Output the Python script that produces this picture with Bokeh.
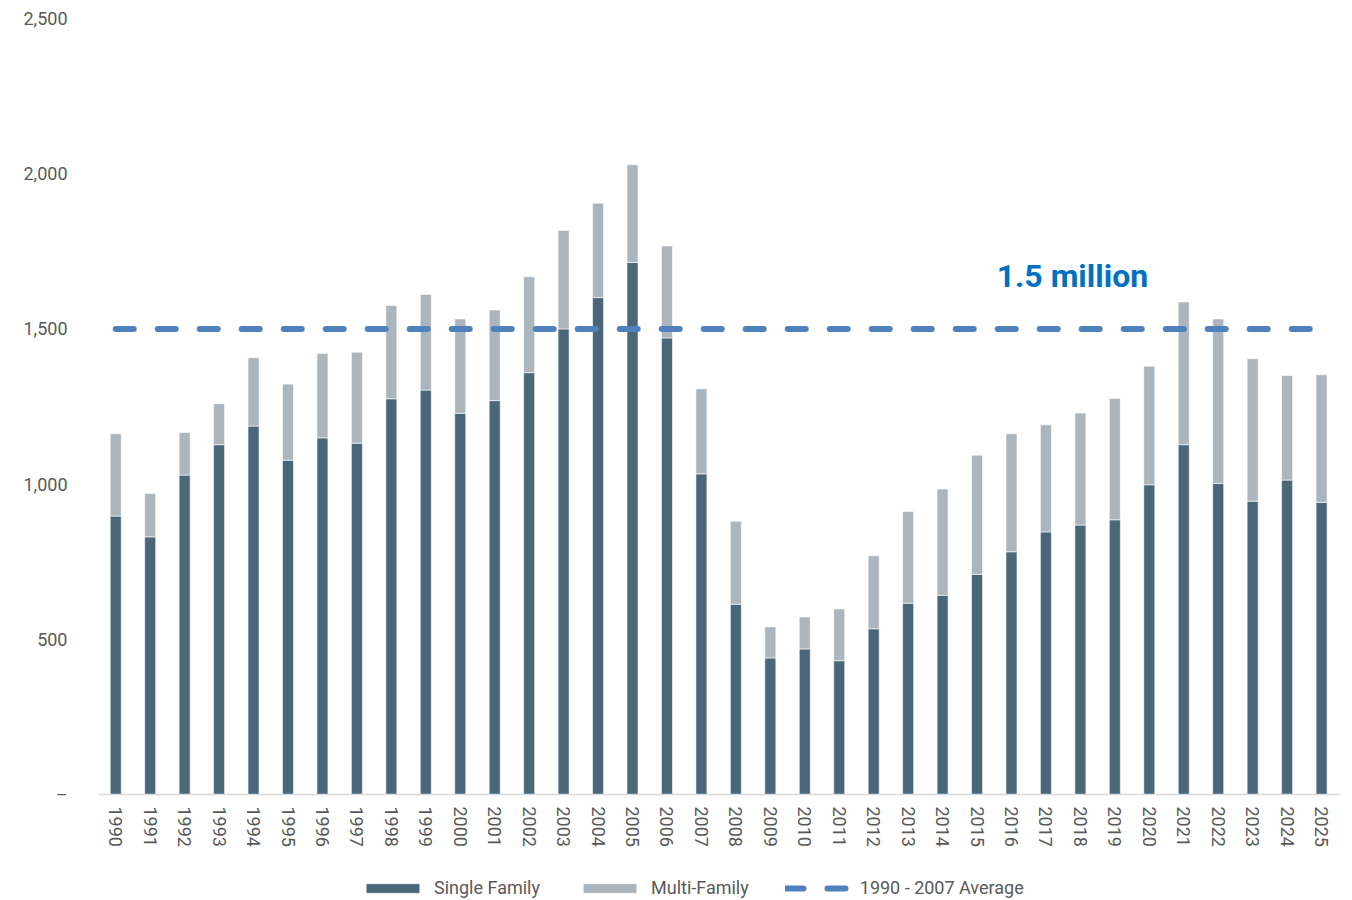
import numpy as np
from bokeh.plotting import figure
from bokeh.models import (ColumnDataSource, Range1d, FixedTicker, Legend, LegendItem, Label,
                          LinearAxis)
from bokeh.embed import file_html
from bokeh.resources import INLINE

# ---- data (thousands of housing starts) ----
years = list(range(1990, 2026))
single_family = [897, 830, 1029, 1127, 1187, 1077, 1149, 1132, 1275, 1303,
                 1228, 1269, 1359, 1500, 1601, 1714, 1471, 1033, 613, 440,
                 469, 431, 534, 616, 642, 709, 782, 846, 868, 885,
                 998, 1127, 1002, 945, 1013, 941]
multi_family = [265, 140, 137, 132, 220, 245, 272, 293, 300, 308,
                304, 292, 309, 317, 304, 315, 296, 274, 267, 100,
                103, 167, 235, 296, 342, 384, 380, 345, 361, 391,
                382, 460, 530, 459, 337, 411]
avg_years = [1990, 2025]
avg_values = [1500, 1500]
y_ticks = [0, 500, 1000, 1500, 2000, 2500]
y_tick_labels = ["\u2013", "500", "1,000", "1,500", "2,000", "2,500"]
annotation_text = "1.5 million"
annotation_pos = (2017.77, 1671)

FONT = "Roboto"
SINGLE_C = "#4A6679"
MULTI_C = "#ABB5BD"
AVG_C = "#4F81BD"
TEXT_C = "#595959"

src = ColumnDataSource(dict(year=years, single=single_family, multi=multi_family))

# y range extends below zero so that the legend and year labels sit inside the frame
p = figure(width=1352, height=900, output_backend="svg", toolbar_location=None,
           x_range=Range1d(1989.5, 2025.55), y_range=Range1d(-341.5, 2500),
           x_axis_location=None,
           min_border_left=98, min_border_right=12, min_border_top=18, min_border_bottom=0)
p.outline_line_color = None
p.xgrid.grid_line_color = None
p.ygrid.grid_line_color = None
p.background_fill_color = "white"
p.border_fill_color = "white"

rs = p.vbar_stack(["single", "multi"], x="year", width=0.32, source=src,
                  color=[SINGLE_C, MULTI_C], line_color="white", line_width=0.6)

avg = p.line(avg_years, avg_values, line_color=AVG_C, line_width=6,
             line_dash="18 24", line_cap="round")

# x axis pinned at y = 0
xaxis = LinearAxis(fixed_location=0, ticker=FixedTicker(ticks=years))
xaxis.major_label_orientation = "vertical"
xaxis.major_label_text_font = FONT
xaxis.major_label_text_font_size = "18px"
xaxis.major_label_text_color = TEXT_C
xaxis.major_tick_line_color = None
xaxis.major_tick_out = 0
xaxis.major_tick_in = 0
xaxis.minor_tick_line_color = None
xaxis.minor_tick_out = 0
xaxis.axis_line_color = "#D9D9D9"
xaxis.axis_line_width = 1.5
xaxis.major_label_standoff = 12
p.add_layout(xaxis, "below")

p.yaxis.ticker = FixedTicker(ticks=y_ticks)
p.yaxis.major_label_overrides = {t: l for t, l in zip(y_ticks, y_tick_labels)}
p.yaxis.major_label_text_font = FONT
p.yaxis.major_label_text_font_size = "18px"
p.yaxis.major_label_text_color = TEXT_C
p.yaxis.major_tick_line_color = None
p.yaxis.minor_tick_line_color = None
p.yaxis.axis_line_color = None
p.yaxis.major_label_standoff = 25

lbl = Label(x=annotation_pos[0], y=annotation_pos[1], text=annotation_text,
            text_align="center", text_baseline="alphabetic",
            text_font=FONT, text_font_size="32px", text_font_style="bold",
            text_color="#0070C0")
p.add_layout(lbl)

legend = Legend(items=[LegendItem(label="Single Family", renderers=[rs[0]]),
                       LegendItem(label="Multi-Family", renderers=[rs[1]]),
                       LegendItem(label="1990 - 2007 Average", renderers=[avg])],
                orientation="horizontal", location=(261, 2),
                glyph_width=67, glyph_height=12, label_standoff=8, spacing=36,
                label_text_font=FONT, label_text_font_size="18px",
                label_text_color=TEXT_C, border_line_color=None,
                background_fill_alpha=0, padding=0, margin=0)
p.add_layout(legend)

open("out.html", "w").write(file_html(p, INLINE))
